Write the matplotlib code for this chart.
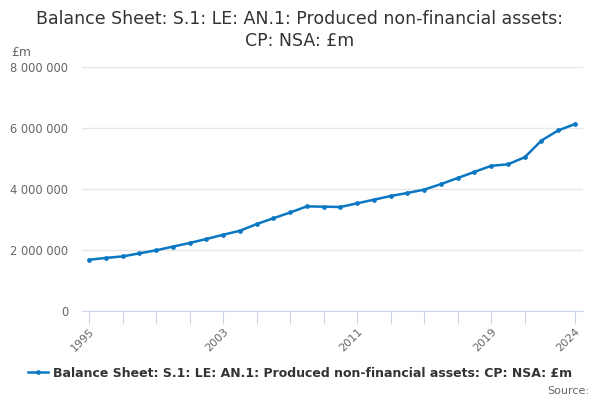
import matplotlib
matplotlib.use("Agg")
import matplotlib.pyplot as plt
from matplotlib.ticker import FuncFormatter, FixedLocator

years = list(range(1995, 2025))
values = [1.68, 1.74, 1.79, 1.89, 1.99, 2.11, 2.23, 2.36, 2.50, 2.63,
          2.85, 3.04, 3.23, 3.43, 3.42, 3.41, 3.53, 3.65, 3.77, 3.87,
          3.98, 4.16, 4.36, 4.56, 4.76, 4.81, 5.04, 5.59, 5.92, 6.13]
values = [v * 1_000_000 for v in values]
tick_years = [1995, 1997, 1999, 2001, 2003, 2005, 2007, 2009, 2011, 2013,
              2015, 2017, 2019, 2021, 2024]
label_years = [1995, 2003, 2011, 2019, 2024]
yticks = [0, 2_000_000, 4_000_000, 6_000_000, 8_000_000]
title = "Balance Sheet: S.1: LE: AN.1: Produced non-financial assets:\nCP: NSA: £m"
series_name = "Balance Sheet: S.1: LE: AN.1: Produced non-financial assets: CP: NSA: £m"

plt.rcParams['font.family'] = ['DejaVu Sans']
fig = plt.figure(figsize=(6, 4), dpi=100)
ax = fig.add_axes([0.1367, 0.2225, 0.835, 0.61])
color = '#0a77c2'
ax.plot(years, values, color=color, lw=1.8, marker='o', markersize=2.4, label=series_name)
ax.set_xlim(1994.58, 2024.48)
ax.set_ylim(0, 8_000_000)
ax.set_yticks(yticks)
ax.yaxis.set_major_formatter(FuncFormatter(lambda v, p: f"{int(v):,}".replace(",", " ")))
ax.grid(axis='y', color='#e6e6e6', lw=1)
ax.set_axisbelow(True)
for s in ['top', 'right', 'left']:
    ax.spines[s].set_visible(False)
ax.spines['bottom'].set_color('#ccd6eb')
ax.tick_params(axis='y', length=0, labelsize=8.3, labelcolor='#666666', pad=10)
ax.xaxis.set_major_locator(FixedLocator(tick_years))
ax.set_xticklabels([str(y) if y in label_years else '' for y in tick_years],
                   rotation=45, ha='right', rotation_mode='anchor')
ax.tick_params(axis='x', length=9, color='#ccd6eb', labelsize=8, labelcolor='#666666', pad=2)

fig.text(0.5, 0.975, title, ha='center', va='top', fontsize=12.5, color='#333333', linespacing=1.3)
fig.text(0.018, 0.868, "£m", fontsize=9, color='#666666', va='center')
leg = fig.legend(loc='center', bbox_to_anchor=(0.5, 0.067), frameon=False,
                 prop={'size': 9, 'weight': 'bold'}, handlelength=1.6, handletextpad=0.4,
                 borderpad=0, borderaxespad=0)
for t in leg.get_texts():
    t.set_color('#333333')
fig.text(0.982, 0.022, "Source:", ha='right', va='center', fontsize=8, color='#666666')
fig.savefig("out.png", dpi=100)
